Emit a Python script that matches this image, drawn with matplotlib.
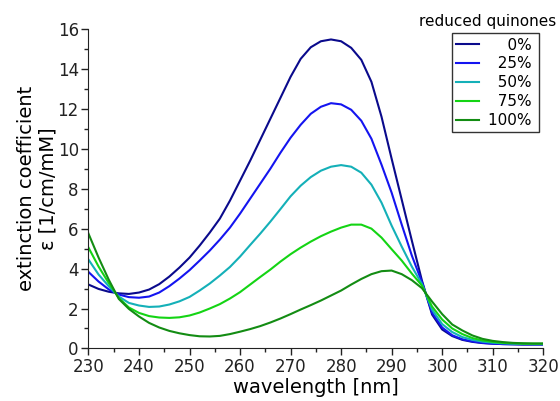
import numpy as np
import matplotlib
matplotlib.use("Agg")
from matplotlib import pyplot as plt
from matplotlib.ticker import MultipleLocator

plt.rcParams['font.family'] = ['DejaVu Sans']

# wavelength grid (nm), read every 2 nm
wavelength = list(range(230, 322, 2))

# extinction coefficient [1/cm/mM] for each fraction of reduced quinones
eps_0 = [3.2, 2.98, 2.84, 2.76, 2.73, 2.8, 2.95, 3.22, 3.6, 4.05,
         4.55, 5.15, 5.8, 6.5, 7.4, 8.4, 9.4, 10.45, 11.5, 12.55,
         13.6, 14.5, 15.08, 15.38, 15.47, 15.38, 15.05, 14.45, 13.35, 11.6,
         9.5, 7.45, 5.4, 3.4, 1.7, 0.95, 0.62, 0.43, 0.33, 0.27,
         0.24, 0.22, 0.21, 0.2, 0.2, 0.2]
eps_25 = [3.83, 3.35, 2.96, 2.7, 2.57, 2.54, 2.6, 2.8, 3.12, 3.5,
          3.92, 4.4, 4.9, 5.45, 6.05, 6.75, 7.5, 8.25, 9.0, 9.8,
          10.55, 11.2, 11.75, 12.1, 12.28, 12.22, 11.95, 11.4, 10.5, 9.2,
          7.8, 6.2, 4.65, 3.32, 1.8, 1.05, 0.66, 0.46, 0.35, 0.28,
          0.24, 0.22, 0.21, 0.2, 0.2, 0.2]
eps_50 = [4.45, 3.7, 3.12, 2.6, 2.28, 2.15, 2.08, 2.1, 2.2, 2.36,
          2.58, 2.9, 3.25, 3.65, 4.08, 4.6, 5.18, 5.75, 6.35, 6.98,
          7.62, 8.15, 8.58, 8.9, 9.1, 9.18, 9.1, 8.8, 8.2, 7.3,
          6.15, 5.1, 4.1, 3.22, 1.95, 1.22, 0.82, 0.57, 0.43, 0.34,
          0.29, 0.26, 0.24, 0.23, 0.22, 0.22]
eps_75 = [5.05, 4.1, 3.28, 2.53, 2.05, 1.78, 1.62, 1.55, 1.53, 1.56,
          1.65, 1.8, 2.0, 2.22, 2.5, 2.82, 3.2, 3.58, 3.95, 4.35,
          4.72, 5.05, 5.35, 5.62, 5.85, 6.05, 6.2, 6.2, 6.0, 5.55,
          4.97, 4.4, 3.75, 3.15, 2.1, 1.45, 1.0, 0.72, 0.52, 0.4,
          0.33, 0.28, 0.26, 0.24, 0.24, 0.24]
eps_100 = [5.75, 4.55, 3.45, 2.48, 1.98, 1.6, 1.28, 1.05, 0.88, 0.76,
           0.67, 0.61, 0.6, 0.63, 0.72, 0.84, 0.97, 1.12, 1.3, 1.5,
           1.72, 1.95, 2.17, 2.4, 2.65, 2.9, 3.2, 3.48, 3.72, 3.87,
           3.9, 3.72, 3.42, 3.02, 2.35, 1.72, 1.2, 0.9, 0.65, 0.48,
           0.38, 0.32, 0.28, 0.26, 0.25, 0.25]

# figure spaces keep the percentages right-aligned
labels = ['\u2007\u20070%\u2009', '\u200725%\u2009', '\u200750%\u2009',
          '\u200775%\u2009', '100%\u2009']
colors = ['#0a0a8c', '#1414f0', '#14b0b8', '#14d414', '#138c13']

fig = plt.figure(figsize=(5.6, 4.01), dpi=100)
ax = fig.add_axes([0.158, 0.131, 0.812, 0.797])

for y, lab, c in zip([eps_0, eps_25, eps_50, eps_75, eps_100], labels, colors):
    ax.plot(wavelength, y, color=c, lw=1.5, label=lab)

ax.set_xlim(230, 320)
ax.set_ylim(0, 16)
ax.xaxis.set_major_locator(MultipleLocator(10))
ax.xaxis.set_minor_locator(MultipleLocator(5))
ax.yaxis.set_major_locator(MultipleLocator(2))
ax.yaxis.set_minor_locator(MultipleLocator(1))
ax.tick_params(which='major', length=5, width=1, labelsize=12, pad=2, colors='#222222')
ax.tick_params(which='minor', length=3, width=1, colors='#222222')
for s in ['top', 'right']:
    ax.spines[s].set_visible(False)
for s in ['left', 'bottom']:
    ax.spines[s].set_color('#222222')

ax.set_xlabel('wavelength [nm]', fontsize=14, labelpad=1)
ax.set_ylabel('extinction coefficient\nε [1/cm/mM]', fontsize=14, labelpad=0)

leg = ax.legend(loc='upper right', bbox_to_anchor=(539 / 560, 1 - 33 / 401),
                bbox_transform=fig.transFigure, fontsize=11,
                frameon=True, fancybox=False, edgecolor='black',
                handlelength=1.45, handletextpad=0.6, labelspacing=0.25,
                borderpad=0.3, borderaxespad=0.0)
leg.get_frame().set_linewidth(1.0)

fig.text(0.870, 0.946, 'reduced quinones', fontsize=11, ha='center', va='center')

fig.savefig('out.png', dpi=100)
